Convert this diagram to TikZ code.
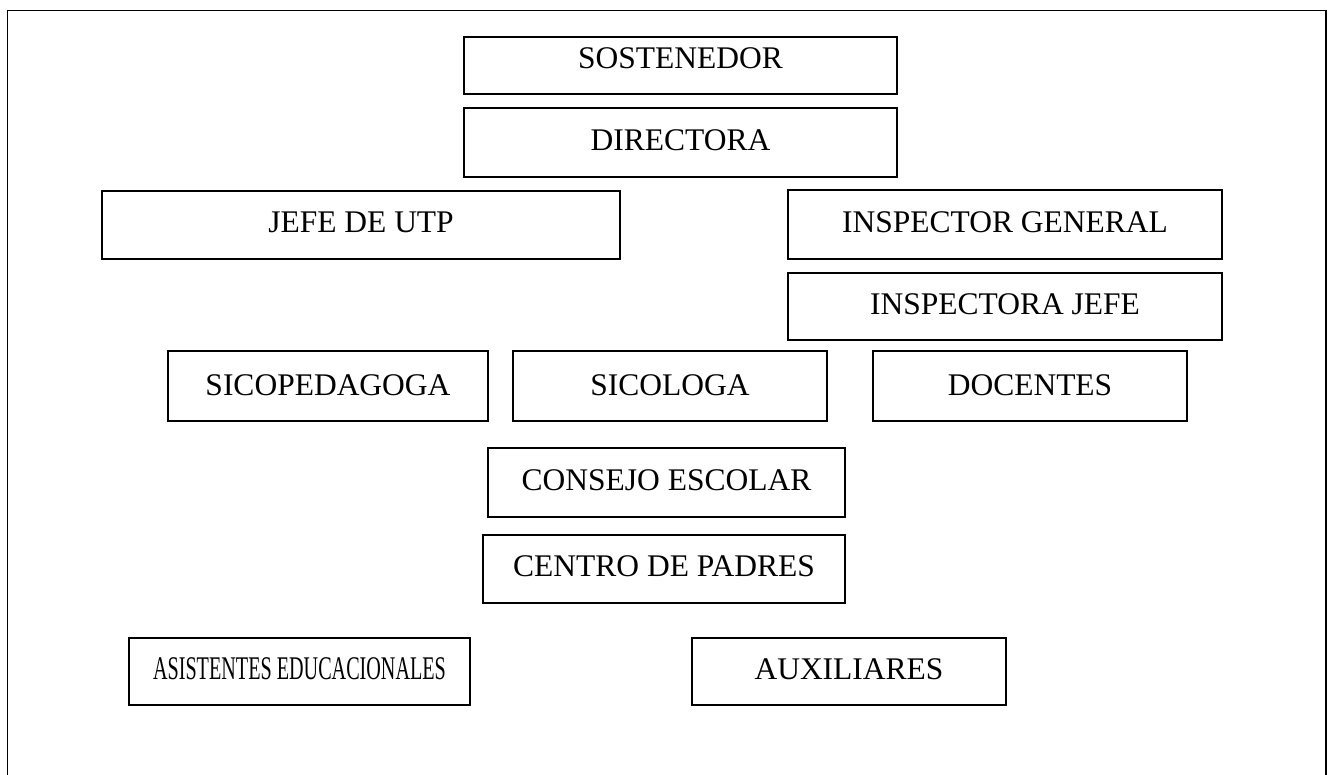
\documentclass[tikz,border=0pt]{standalone}
\usepackage{fontspec}
\setmainfont{Liberation Serif}
\begin{document}
\begin{tikzpicture}[x=1pt,y=-1pt,
  box/.style={draw, line width=1.8pt, inner sep=0pt, text height=21pt, text depth=6pt,
    font=\fontsize{31.5}{36}\selectfont},
  frame/.style={line width=1.9pt}]
\useasboundingbox (0,0) rectangle (1329,774);
\coordinate (fl) at (7.5,776);
\coordinate (ftl) at (7.5,10.5);
\coordinate (ftr) at (1326,10.5);
\coordinate (fr) at (1326,776);
\draw[frame] (fl) -- (ftl) -- (ftr) -- (fr);
\node[box, text depth=15pt, minimum width=433pt, minimum height=57pt] (sost) at (680.5,65.5) {SOSTENEDOR};
\node[box, minimum width=433pt, minimum height=69pt] (dir) at (680.5,142.5) {DIRECTORA};
\node[box, minimum width=518pt, minimum height=68pt] (jefe) at (361,225) {JEFE DE UTP};
\node[box, minimum width=434pt, minimum height=69pt] (insg) at (1005,224.5) {INSPECTOR GENERAL};
\node[box, minimum width=434pt, minimum height=67pt] (insj) at (1005,306.5) {INSPECTORA JEFE};
\node[box, text depth=2pt, minimum width=320pt, minimum height=70pt] (sicop) at (328,386) {SICOPEDAGOGA};
\node[box, text depth=2pt, minimum width=314pt, minimum height=70pt] (sicol) at (670,386) {SICOLOGA};
\node[box, text depth=2pt, minimum width=314pt, minimum height=70pt] (doc) at (1030,386) {DOCENTES};
\node[box, minimum width=357pt, minimum height=69pt] (cons) at (666.5,482.5) {CONSEJO ESCOLAR};
\node[box, minimum width=362pt, minimum height=68pt] (cent) at (664,569) {CENTRO DE PADRES};
\node[box, minimum width=341pt, minimum height=67pt] (asis) at (299.5,671.5) {\scalebox{0.64}[1.05]{ASISTENTES EDUCACIONALES}};
\node[box, minimum width=314pt, minimum height=67pt] (aux) at (849,671.5) {AUXILIARES};
\end{tikzpicture}
\end{document}
